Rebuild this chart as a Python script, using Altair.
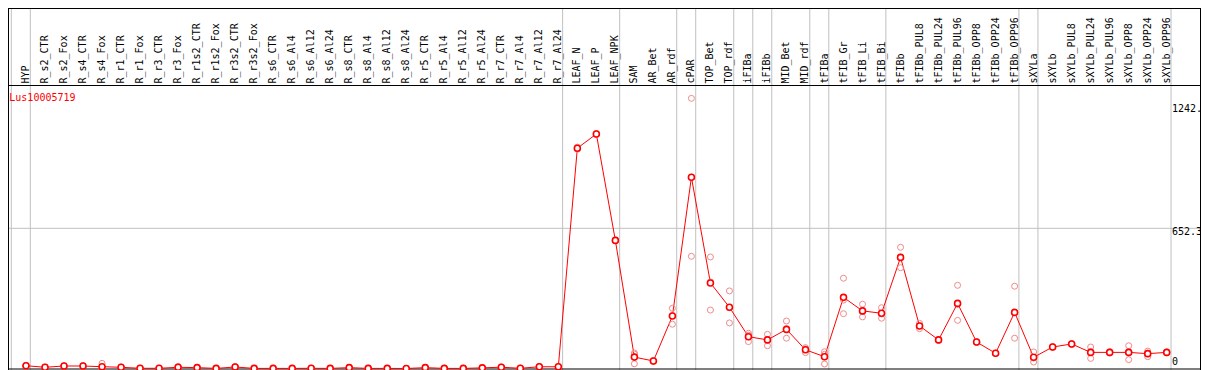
import altair as alt
import pandas as pd

samples = ["HYP", "R_s2_CTR", "R_s2_Fox", "R_s4_CTR", "R_s4_Fox", "R_r1_CTR", "R_r1_Fox",
           "R_r3_CTR", "R_r3_Fox", "R_r1s2_CTR", "R_r1s2_Fox", "R_r3s2_CTR", "R_r3s2_Fox",
           "R_s6_CTR", "R_s6_Al4", "R_s6_Al12", "R_s6_Al24", "R_s8_CTR", "R_s8_Al4",
           "R_s8_Al12", "R_s8_Al24", "R_r5_CTR", "R_r5_Al4", "R_r5_Al12", "R_r5_Al24",
           "R_r7_CTR", "R_r7_Al4", "R_r7_Al12", "R_r7_Al24", "LEAF_N", "LEAF_P", "LEAF_NPK",
           "SAM", "AR_Bet", "AR_rdf", "cPAR", "TOP_Bet", "TOP_rdf", "iFIBa", "iFIBb",
           "MID_Bet", "MID_rdf", "tFIBa", "tFIB_Gr", "tFIB_Li", "tFIB_Bi", "tFIBb",
           "tFIBb_PUL8", "tFIBb_PUL24", "tFIBb_PUL96", "tFIBb_OPP8", "tFIBb_OPP24",
           "tFIBb_OPP96", "sXYLa", "sXYLb", "sXYLb_PUL8", "sXYLb_PUL24", "sXYLb_PUL96",
           "sXYLb_OPP8", "sXYLb_OPP24", "sXYLb_OPP96"]

means = [13, 5.6, 11.6, 11.6, 8.4, 5.6, 1, 1, 5.6, 4, 0.5, 7, 0.5, 0.5, 0.5, 1, 0.5, 4,
         0.5, 0.5, 0, 4, 0.5, 0.5, 3, 6, 1, 8, 8,
         1025, 1091, 596, 53, 35, 244, 890, 398, 285, 148, 133, 182, 87, 55, 331, 268,
         257, 517, 198, 133, 303, 123, 71, 261, 52, 100, 114, 75, 75, 75, 69, 75]

rep_a = [15, 6, 12, 13, 24, 7, 1, 1, 9, 4, 0, 9, 0, 0, 0, 1, 0, 4, 0, 0, 0, 4, 0, 0, 3, 7, 1, 9, 8,
         1030, 1089, 594, 67, 33, 280, 1257, 519, 361, 164, 159, 221, 74, 78, 420, 299,
         283, 564, 210, 135, 387, 125, 72, 383, 77, 102, 116, 100, 78, 106, 81, 77]
rep_b = [12, 5, 11, 11, 1, 5, 1, 1, 4, 4, 1, 6, 1, 1, 1, 1, 1, 4, 1, 1, 0, 4, 1, 1, 3, 5, 1, 7, 8,
         1020, 1093, 598, 22, 37, 206, 522, 272, 212, 125, 106, 141, 97, 21, 255, 240,
         234, 469, 185, 131, 224, 121, 70, 141, 30, 98, 112, 47, 72, 41, 55, 73]
rep_c = [12, 6, 12, 11, 0, 5, 1, 1, 4, 4, 0, 6, 0, 0, 0, 1, 0, 4, 0, 0, 0, 4, 0, 0, 3, 6, 1, 8, 8,
         1025, 1091, 596, 72, 35, 246, 890, 403, 283, 155, 133, 185, 91, 66, 318, 265,
         254, 519, 198, 133, 299, 123, 71, 260, 49, 100, 114, 79, 75, 79, 71, 75]

group_ends = ["HYP", "R_r7_Al24", "LEAF_NPK", "AR_rdf", "cPAR", "TOP_rdf", "iFIBa", "iFIBb",
              "MID_rdf", "tFIBa", "tFIB_Bi", "tFIBb_OPP96", "sXYLa", "sXYLb_OPP96"]

gene_name = ["Lus10005719"]
y_tick_values = [1242, 652.3, 0]
y_tick_labels = ["1242.", "652.3", "0"]
grid_values = [652.3]

W, H = 1193, 284
MONO = "DejaVu Sans Mono"
GRAY = "#c0c0c0"

xscale = alt.Scale(domain=[-0.9468, 61.8033], nice=False, zero=False)
yscale = alt.Scale(domain=[-2.33, 1319.07], nice=False, zero=False)

df = pd.DataFrame({"idx": list(range(len(samples))), "sample": samples, "mean": means})
reps = pd.DataFrame({
    "idx": list(range(len(samples))) * 3,
    "val": rep_a + rep_b + rep_c,
})
bounds = pd.DataFrame({"b": [-1] + [samples.index(n) for n in group_ends]})
grid_df = pd.DataFrame({"v": grid_values})
ticks_df = pd.DataFrame({"v": y_tick_values, "t": y_tick_labels})
name_df = pd.DataFrame({"t": gene_name})
dummy = pd.DataFrame({"a": [0]})

X = lambda f: alt.X(f, scale=xscale, axis=None)
Y = lambda f: alt.Y(f, scale=yscale, axis=None)

separators = alt.Chart(bounds).mark_rule(color=GRAY, strokeWidth=1, xOffset=4.3).encode(
    x=X("b:Q"), y=alt.value(-77), y2=alt.value(285))

grid = alt.Chart(grid_df).mark_rule(color=GRAY, strokeWidth=1).encode(
    y=Y("v:Q"), x=alt.value(0), x2=alt.value(W))

def hrule(yv):
    return alt.Chart(dummy).mark_rule(color="black", strokeWidth=1).encode(
        y=alt.value(yv), x=alt.value(0), x2=alt.value(W))

def vrule(xv):
    return alt.Chart(dummy).mark_rule(color="black", strokeWidth=1).encode(
        x=alt.value(xv), y=alt.value(-77), y2=alt.value(285))

borders = [hrule(-76.5), hrule(0.5), hrule(284), vrule(0.5), vrule(W - 0.5)]

header = alt.Chart(df).mark_text(angle=270, align="left", baseline="middle", font=MONO,
                                 fontSize=10, color="black").encode(
    x=X("idx:Q"), y=alt.value(-1.5), text="sample:N")

name = alt.Chart(name_df).mark_text(align="left", baseline="middle", font=MONO,
                                    fontSize=10, color="red").encode(
    x=alt.value(1.3), y=alt.value(13), text="t:N")

tick_dy = [7, 4, -6]
tick_layers = []
for i, d in enumerate(tick_dy):
    tick_layers.append(
        alt.Chart(ticks_df.iloc[[i]]).mark_text(align="left", baseline="middle", font=MONO,
                                                 fontSize=10, color="black", dy=d).encode(
            y=Y("v:Q"), x=alt.value(1164), text="t:N"))

line = alt.Chart(df).mark_line(color="red", strokeWidth=1).encode(
    x=X("idx:Q"), y=Y("mean:Q"), order="idx:Q")

rep_pts = alt.Chart(reps).mark_point(shape="circle", filled=False, color="#f08a8a",
                                      size=36, strokeWidth=1, opacity=1).encode(
    x=X("idx:Q"), y=Y("val:Q"))

mean_pts = alt.Chart(df).mark_point(shape="circle", filled=False, fill="white", fillOpacity=1,
                                     stroke="red", size=36, strokeWidth=1.6, opacity=1).encode(
    x=X("idx:Q"), y=Y("mean:Q"))

chart = alt.layer(
    separators, grid, *borders, header, name, *tick_layers, line, rep_pts, mean_pts
).properties(
    width=W, height=H,
    padding={"left": 0, "top": 77, "right": 0, "bottom": 1},
    autosize=alt.AutoSizeParams(type="none"),
    background="white",
).configure_view(stroke=None)

chart.save("out.html", embed_options={"renderer": "svg", "actions": False})
